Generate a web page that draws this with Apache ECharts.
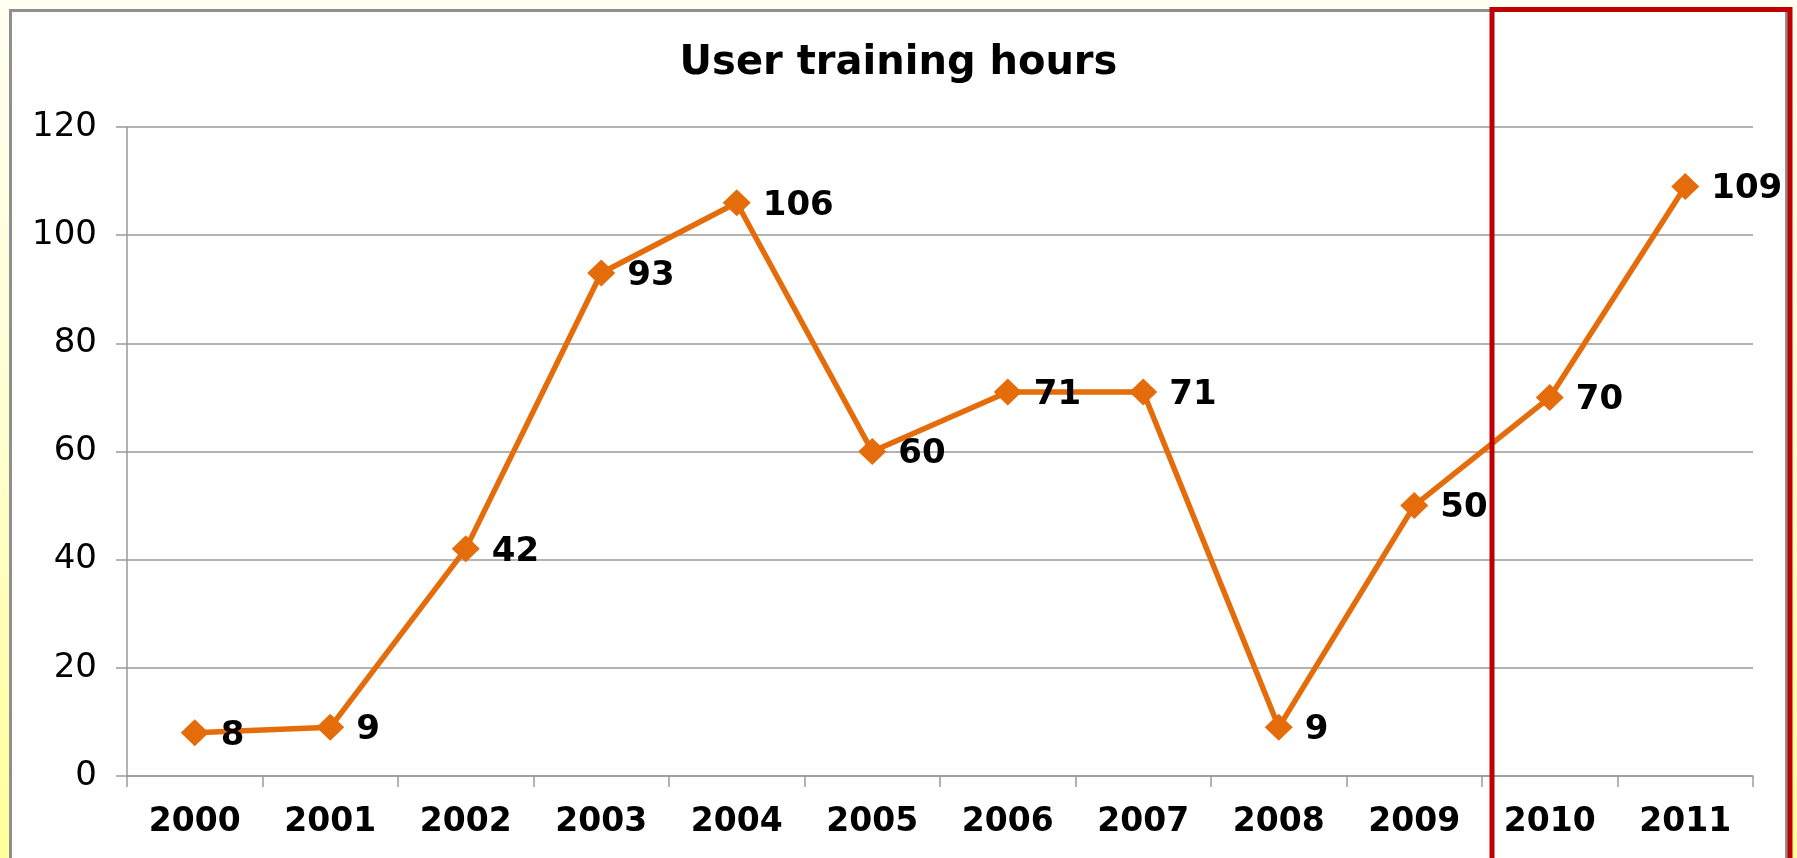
<!DOCTYPE html>
<html>
<head>
<meta charset="utf-8">
<script src="https://cdn.jsdelivr.net/npm/echarts@6/dist/echarts.min.js"></script>
<style>
  html, body { margin:0; padding:0; width:1797px; height:858px; overflow:hidden;
    background: linear-gradient(to bottom, #FFFFF2 0%, #FFFFD0 50%, #FFFF99 100%); }
  #frame { position:absolute; left:9px; top:9px; width:1779px; height:870px;
    border:3px solid #8f8f8f; background:#ffffff; box-sizing:border-box; }
  #chart { position:absolute; left:0; top:0; width:1797px; height:858px; }
</style>
</head>
<body>
<div id="frame"></div>
<div id="chart"></div>
<script>
const categories = ['2000','2001','2002','2003','2004','2005','2006','2007','2008','2009','2010','2011'];
const hours = [8, 9, 42, 93, 106, 60, 71, 71, 9, 50, 70, 109];
const yTicks = { min: 0, max: 120, interval: 20 };
const titleText = 'User training hours';

const chart = echarts.init(document.getElementById('chart'), null, { renderer: 'canvas' });
const font = 'DejaVu Sans, Verdana, sans-serif';
chart.setOption({
  backgroundColor: 'transparent',
  animation: false,
  title: {
    text: titleText, left: 'center', top: 39,
    textStyle: { fontFamily: font, fontSize: 40, fontWeight: 'bold', color: '#000' }
  },
  grid: { left: 127, right: 44, top: 127, bottom: 82 },
  xAxis: {
    type: 'category', data: categories, boundaryGap: true,
    axisLine: { lineStyle: { color: '#9a9a9a', width: 1.5 } },
    axisTick: { show: true, length: 11, alignWithLabel: false, lineStyle: { color: '#9a9a9a', width: 1.5 } },
    axisLabel: { fontFamily: font, fontSize: 33, fontWeight: 'bold', color: '#000', margin: 30, interval: 0 }
  },
  yAxis: {
    type: 'value', min: yTicks.min, max: yTicks.max, interval: yTicks.interval,
    axisLine: { show: true, lineStyle: { color: '#9a9a9a', width: 1.5 } },
    axisTick: { show: true, length: 11, lineStyle: { color: '#9a9a9a', width: 1.5 } },
    splitLine: { show: true, lineStyle: { color: '#9a9a9a', width: 1.5 } },
    axisLabel: { fontFamily: font, fontSize: 34, color: '#000', margin: 30 }
  },
  series: [{
    type: 'line', data: hours,
    symbol: 'diamond', symbolSize: [28, 27],
    lineStyle: { color: '#E46C0A', width: 5.5 },
    itemStyle: { color: '#E46C0A' },
    label: {
      show: true, position: 'right', distance: 12, offset: [0, 3],
      fontFamily: font, fontSize: 34, fontWeight: 'bold', color: '#000'
    },
    z: 3
  }],
  graphic: [{
    type: 'rect', z: 100, silent: true,
    shape: { x: 1492, y: 9.5, width: 298, height: 900 },
    style: { fill: 'none', stroke: '#C00000', lineWidth: 5 }
  }]
});
</script>
</body>
</html>
